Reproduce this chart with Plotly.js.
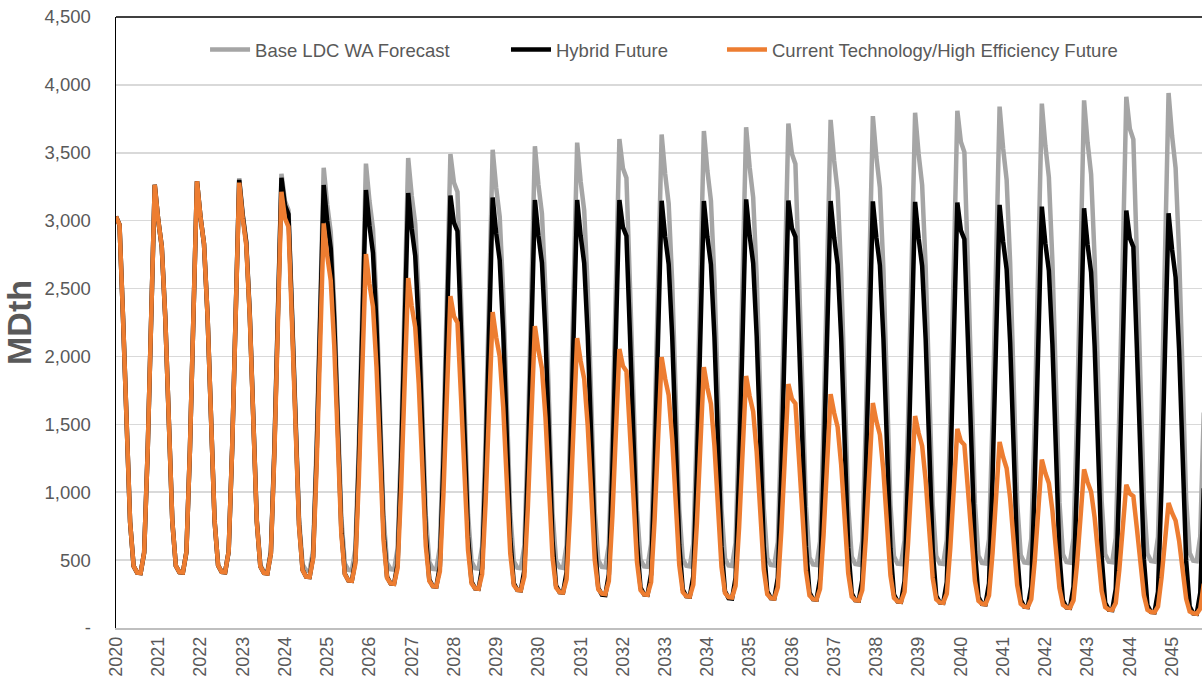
<!DOCTYPE html>
<html>
<head>
<meta charset="utf-8">
<script src="https://cdn.plot.ly/plotly-3.0.1.min.js"></script>
<style>
html,body{margin:0;padding:0;background:#fff;}
#chart{width:1202px;height:689px;}
</style>
</head>
<body>
<div id="chart"></div>
<script>
// Tick labels (years shown on the x axis)
const years = ["2020","2021","2022","2023","2024","2025","2026","2027","2028","2029","2030","2031","2032","2033","2034","2035","2036","2037","2038","2039","2040","2041","2042","2043","2044","2045"];
const monthNames = ["01","02","03","04","05","06","07","08","09","10","11","12"];

// Monthly demand, MDth (Jan 2020 .. Oct 2045)
const baseForecast = [
  3030,2970,2282,1467,782,456,408,405,555,1306,2383,3265, // 2020
  3004,2808,2286,1469,784,457,411,408,559,1316,2402,3290, // 2021
  3027,2829,2303,1481,790,461,414,411,563,1325,2418,3312, // 2022
  3047,2848,2318,1490,795,464,418,415,569,1338,2442,3345, // 2023
  3144,3077,2342,1505,803,468,424,420,576,1356,2475,3390, // 2024
  3119,2915,2373,1526,814,475,428,424,581,1368,2497,3420, // 2025
  3146,2941,2394,1539,821,479,433,429,589,1385,2527,3462, // 2026
  3185,2977,2423,1558,831,485,436,433,593,1396,2548,3490, // 2027
  3281,3211,2443,1571,838,489,440,437,599,1409,2571,3522, // 2028
  3240,3029,2465,1585,845,493,444,440,603,1419,2590,3548, // 2029
  3264,3051,2484,1597,852,497,447,443,608,1430,2610,3575, // 2030
  3289,3075,2503,1609,858,501,450,447,612,1441,2629,3602, // 2031
  3386,3314,2521,1621,864,504,454,451,618,1454,2654,3635, // 2032
  3344,3126,2545,1636,872,509,458,454,622,1464,2672,3660, // 2033
  3367,3148,2562,1647,878,512,461,457,627,1475,2692,3688, // 2034
  3393,3172,2582,1660,885,516,464,461,632,1486,2712,3715, // 2035
  3492,3418,2601,1672,892,520,468,464,636,1497,2732,3742, // 2036
  3443,3218,2619,1684,898,524,471,467,641,1508,2752,3770, // 2037
  3468,3242,2639,1697,905,528,474,471,645,1518,2770,3795, // 2038
  3491,3264,2657,1708,911,531,476,472,648,1524,2781,3810, // 2039
  3581,3505,2667,1715,914,533,480,476,653,1536,2803,3840, // 2040
  3533,3302,2688,1728,922,538,483,479,657,1545,2819,3862, // 2041
  3553,3321,2703,1738,927,541,486,482,661,1554,2837,3886, // 2042
  3575,3342,2720,1749,933,544,489,485,665,1565,2856,3912, // 2043
  3677,3599,2738,1760,939,548,493,489,670,1576,2876,3940, // 2044
  3625,3388,2758,1773,946,552,496,492,674,1586            // 2045
];

const hybridFuture = [
  3030,2970,2282,1467,782,456,408,405,555,1306,2383,3265, // 2020
  3004,2808,2286,1469,784,457,411,408,559,1316,2402,3290, // 2021
  3027,2829,2303,1481,790,461,414,411,563,1325,2410,3300, // 2022
  3037,2837,2307,1479,784,454,405,402,553,1319,2416,3315, // 2023
  3112,3048,2308,1468,763,428,378,375,525,1284,2371,3262, // 2024
  2997,2796,2263,1430,731,400,350,347,497,1253,2337,3226, // 2025
  2962,2762,2232,1403,708,377,328,325,475,1231,2315,3204, // 2026
  2940,2741,2211,1382,687,357,308,305,455,1211,2296,3185, // 2027
  2985,2922,2193,1365,671,341,292,289,439,1196,2281,3170, // 2028
  2907,2708,2179,1352,659,329,280,277,426,1182,2265,3152, // 2029
  2889,2690,2161,1335,642,313,264,261,411,1171,2260,3152, // 2030
  2888,2687,2155,1324,627,295,246,243,394,1158,2254,3152, // 2031
  2952,2888,2156,1325,628,297,248,245,396,1158,2251,3146, // 2032
  2881,2680,2147,1314,615,284,234,231,382,1148,2246,3145, // 2033
  2879,2677,2142,1305,603,270,220,217,370,1142,2249,3157, // 2034
  2890,2687,2150,1310,605,270,220,217,369,1139,2243,3148, // 2035
  2945,2881,2141,1301,597,262,212,209,362,1133,2239,3145, // 2036
  2877,2675,2137,1296,590,255,205,202,355,1127,2234,3142, // 2037
  2874,2671,2132,1289,582,246,196,193,346,1120,2229,3138, // 2038
  2870,2666,2126,1282,574,238,188,185,338,1113,2223,3133, // 2039
  2929,2864,2119,1274,565,228,178,175,328,1101,2208,3116, // 2040
  2847,2643,2101,1255,545,207,157,154,307,1082,2193,3103, // 2041
  2834,2631,2091,1247,539,202,152,149,302,1075,2183,3091, // 2042
  2822,2618,2077,1232,523,186,136,133,286,1059,2167,3075, // 2043
  2871,2806,2061,1215,505,168,118,115,268,1040,2147,3055, // 2044
  2787,2583,2044,1201,494,158,108,105,258,1029            // 2045
];

const currentTechFuture = [
  3030,2970,2282,1467,782,456,408,405,555,1306,2383,3265, // 2020
  3004,2808,2286,1469,784,457,411,408,559,1316,2402,3290, // 2021
  3027,2829,2303,1481,790,461,414,411,563,1325,2400,3280, // 2022
  3018,2820,2294,1472,782,454,405,402,548,1287,2345,3213, // 2023
  3017,2955,2241,1430,749,426,378,375,511,1195,2176,2980, // 2024
  2741,2559,2078,1326,695,395,350,347,473,1105,2011,2754, // 2025
  2533,2366,1922,1228,646,369,328,325,443,1035,1883,2578, // 2026
  2371,2215,1799,1150,605,347,308,305,417,979,1785,2445,  // 2027
  2296,2249,1707,1091,574,329,292,289,396,931,1698,2327,  // 2028
  2141,1999,1625,1039,548,315,280,277,379,890,1623,2224,  // 2029
  2046,1910,1552,991,521,297,264,261,359,852,1558,2136,   // 2030
  1965,1835,1490,952,500,285,253,250,345,819,1498,2055,   // 2031
  1930,1891,1435,918,485,279,248,245,337,797,1456,1996,   // 2032
  1836,1714,1392,888,465,264,234,231,320,764,1400,1922,   // 2033
  1768,1651,1341,856,450,257,228,225,311,739,1353,1856,   // 2034
  1707,1594,1295,827,434,248,220,217,300,715,1310,1797,   // 2035
  1688,1653,1253,800,420,239,212,209,289,686,1256,1723,   // 2036
  1585,1480,1202,768,404,231,205,202,279,661,1208,1657,   // 2037
  1524,1423,1156,738,387,221,196,193,266,625,1139,1561,   // 2038
  1436,1341,1090,697,368,211,188,185,253,589,1071,1466,   // 2039
  1377,1349,1024,656,347,200,178,175,239,552,1002,1370,   // 2040
  1260,1176,954,607,316,178,157,154,212,497,905,1240,     // 2041
  1141,1066,867,556,295,170,152,149,204,471,854,1168,     // 2042
  1074,1003,814,519,271,154,136,133,183,425,771,1055,     // 2043
  990,970,734,466,241,134,118,115,159,370,673,921,        // 2044
  847,791,642,410,215,122,108,105,143,325                 // 2045
];

const seriesNames = ["Base LDC WA Forecast", "Hybrid Future", "Current Technology/High Efficiency Future"];
const yTickVals = [0,500,1000,1500,2000,2500,3000,3500,4000,4500];
const yTickText = ["-","500","1,000","1,500","2,000","2,500","3,000","3,500","4,000","4,500"];

// month categories
const months = [];
years.forEach(y => monthNames.forEach(m => months.push(y + "-" + m)));
const n = baseForecast.length;
const cats = months.slice(0, n);
const janTicks = years.map(y => y + "-01");

const FONT = "Liberation Sans, Arial, sans-serif";
const TXT = "#595959";

const traces = [
  {x: cats, y: baseForecast, name: seriesNames[0], type: "scatter", mode: "lines",
   line: {color: "#a5a5a5", width: 4.5}, legend: "legend", hoverinfo: "skip"},
  {x: cats, y: hybridFuture, name: seriesNames[1], type: "scatter", mode: "lines",
   line: {color: "#000000", width: 4.5}, legend: "legend2", hoverinfo: "skip"},
  {x: cats, y: currentTechFuture, name: seriesNames[2], type: "scatter", mode: "lines",
   line: {color: "#ed7d31", width: 4.5}, legend: "legend3", hoverinfo: "skip"}
];

const legendCommon = {orientation: "h", yanchor: "middle", xanchor: "left", y: 0.946,
  bgcolor: "rgba(0,0,0,0)", font: {family: FONT, size: 18.5, color: TXT}, itemwidth: 40};

const layout = {
  width: 1202, height: 689,
  margin: {l: 116, r: 0, t: 17, b: 61},
  paper_bgcolor: "#ffffff", plot_bgcolor: "#ffffff",
  font: {family: FONT, color: TXT},
  showlegend: true,
  legend: Object.assign({}, legendCommon, {x: 0.0820}),
  legend2: Object.assign({}, legendCommon, {x: 0.3591}),
  legend3: Object.assign({}, legendCommon, {x: 0.5580}),
  xaxis: {
    type: "category", range: [0, 308.5],
    tickvals: janTicks, ticktext: years, tickangle: -90,
    tickfont: {family: FONT, size: 18, color: TXT},
    showgrid: false, showline: true, linecolor: "#bfbfbf", linewidth: 1.5,
    ticks: "", zeroline: false, fixedrange: true
  },
  yaxis: {
    range: [0, 4500], tickvals: yTickVals, ticktext: yTickText,
    tickfont: {family: FONT, size: 18.5, color: TXT},
    showgrid: true, gridcolor: "#d9d9d9", gridwidth: 1.5,
    showline: true, linecolor: "#000000", linewidth: 1.5,
    zeroline: false, ticks: "", ticklabelstandoff: 20,
    title: {text: "<b>MDth</b>", font: {family: FONT, size: 34, color: TXT}, standoff: 6},
    fixedrange: true
  },
  shapes: [
    {type: "line", xref: "paper", yref: "paper", x0: 0, x1: 1, y0: 1, y1: 1,
     line: {color: "#000000", width: 1.5}}
  ]
};

Plotly.newPlot("chart", traces, layout, {displayModeBar: false, staticPlot: true});
</script>
</body>
</html>
